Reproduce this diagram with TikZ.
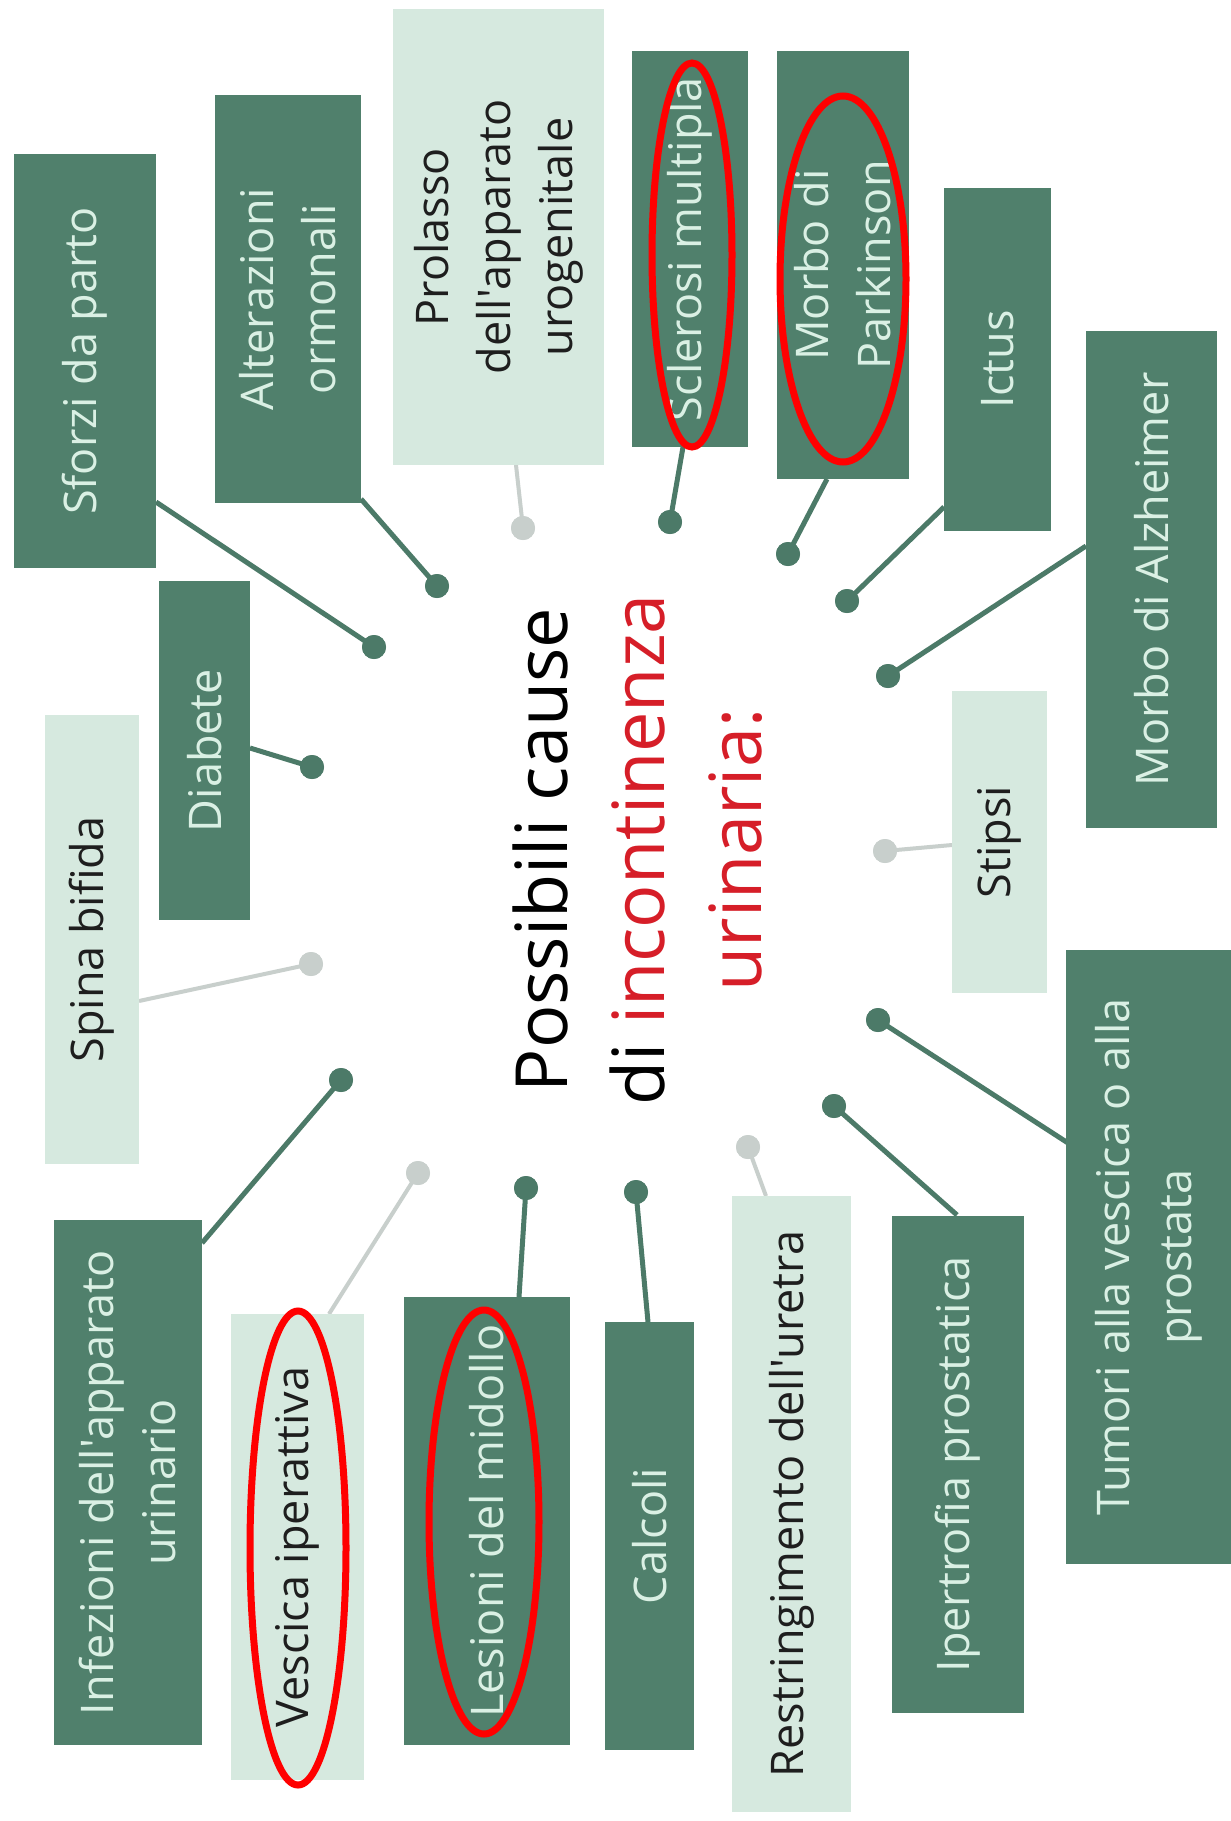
\documentclass[tikz,border=0pt]{standalone}
\usepackage{fontspec}
\setmainfont{Open Sans}[Ligatures=TeXOff]
\definecolor{dk}{RGB}{80,128,108}
\definecolor{lt}{RGB}{214,233,223}
\definecolor{dtext}{RGB}{218,240,228}
\definecolor{ltext}{RGB}{30,30,30}
\definecolor{dline}{RGB}{76,122,104}
\definecolor{lline}{RGB}{200,207,204}
\definecolor{ttlred}{RGB}{214,30,40}
\begin{document}
\begin{tikzpicture}[x=1pt,y=-1pt,
  base/.style={rectangle, inner sep=0pt, rotate=90, align=center, font=\fontsize{45}{62}\selectfont},
  dbox/.style={base, fill=dk, text=dtext},
  lbox/.style={base, fill=lt, text=ltext},
  ddot/.style={circle, fill=dline, minimum size=24pt, inner sep=0pt},
  ldot/.style={circle, fill=lline, minimum size=24pt, inner sep=0pt},
  dcon/.style={draw=dline, line width=5pt},
  lcon/.style={draw=lline, line width=4pt},
  ring/.style={draw=red, line width=7pt}]
\useasboundingbox (0,0) rectangle (1231,1821);
\fill[white] (0,0) rectangle (1231,1821);

% connector end points on the boxes
\coordinate (e1) at (156,502);
\coordinate (e2) at (361,499);
\coordinate (e3) at (516,465);
\coordinate (e4) at (683,447);
\coordinate (e5) at (827,479);
\coordinate (e6) at (944,507);
\coordinate (e7) at (1086,546);
\coordinate (e8) at (952,845);
\coordinate (e9) at (1068,1143);
\coordinate (e10) at (957,1215);
\coordinate (e11) at (766,1196);
\coordinate (e12) at (648,1322);
\coordinate (e13) at (519,1297);
\coordinate (e14) at (329,1314);
\coordinate (e15) at (202,1243);
\coordinate (e16) at (139,1001);
\coordinate (e17) at (250,748);

% dots
\foreach \i/\x/\y in {1/374/647,2/437/586,4/670/522,5/788/554,6/847/601,7/888/676,9/878/1020,10/834/1106,12/636/1192,13/526/1188,15/341/1080,17/312/767}
  {\node[ddot] (d\i) at (\x,\y) {};}
\foreach \i/\x/\y in {3/523/528,8/885/851,11/748/1147,14/418/1173,16/311/964}
  {\node[ldot] (d\i) at (\x,\y) {};}

\begin{scope}[on background layer/.style={}]
\foreach \i in {1,2,4,5,6,7,9,10,12,13,15,17}{\draw[dcon] (d\i.center) -- (e\i);}
\foreach \i in {3,8,11,14,16}{\draw[lcon] (d\i.center) -- (e\i);}
\end{scope}
\foreach \i in {1,2,4,5,6,7,9,10,12,13,15,17}{\fill[dline] (d\i) circle (12);}
\foreach \i in {3,8,11,14,16}{\fill[lline] (d\i) circle (12);}

% boxes (minimum width = vertical extent, minimum height = horizontal extent)
\node[dbox, minimum width=414pt, minimum height=142pt] (b1) at (85,361) {Sforzi da parto};
\node[dbox, minimum width=408pt, minimum height=146pt] (b2) at (288,299) {Alterazioni\\ormonali};
\node[lbox, minimum width=456pt, minimum height=211pt] (b3) at (498.5,237) {Prolasso\\dell'apparato\\urogenitale};
\node[dbox, minimum width=396pt, minimum height=116pt] (b4) at (690,249) {Sclerosi multipla};
\node[dbox, minimum width=428pt, minimum height=132pt] (b5) at (843,265) {Morbo di\\Parkinson};
\node[dbox, minimum width=343pt, minimum height=107pt] (b6) at (997.5,359.5) {Ictus};
\node[dbox, minimum width=497pt, minimum height=131pt] (b7) at (1151.5,579.5) {Morbo di Alzheimer};
\node[lbox, minimum width=302pt, minimum height=95pt] (b8) at (999.5,842) {Stipsi};
\node[dbox, minimum width=614pt, minimum height=165pt] (b9) at (1148.5,1257) {Tumori alla vescica o alla\\prostata};
\node[dbox, minimum width=497pt, minimum height=132pt] (b10) at (958,1464.5) {Ipertrofia prostatica};
\node[lbox, minimum width=616pt, minimum height=119pt] (b11) at (791.5,1504) {Restringimento dell'uretra};
\node[dbox, minimum width=428pt, minimum height=89pt] (b12) at (649.5,1536) {Calcoli};
\node[dbox, minimum width=448pt, minimum height=166pt] (b13) at (487,1521) {Lesioni del midollo};
\node[lbox, minimum width=466pt, minimum height=133pt] (b14) at (297.5,1547) {Vescica iperattiva};
\node[dbox, minimum width=525pt, minimum height=148pt] (b15) at (128,1482.5) {Infezioni dell'apparato\\urinario};
\node[lbox, minimum width=449pt, minimum height=94pt] (b16) at (92,939.5) {Spina bifida};
\node[dbox, minimum width=339pt, minimum height=91pt] (b17) at (204.5,750.5) {Diabete};

% title
\node[rotate=90, align=center, inner sep=0pt, font=\fontsize{72}{97}\selectfont] (title) at (638,850)
  {Possibili cause\\di \textcolor{ttlred}{incontinenza}\\\textcolor{ttlred}{urinaria:}};

% red rings
\draw[ring] (692,255) ellipse [x radius=40, y radius=192];
\draw[ring] (843,279) ellipse [x radius=63, y radius=183];
\draw[ring] (298,1548) ellipse [x radius=48, y radius=237];
\draw[ring] (484,1522) ellipse [x radius=55, y radius=212];
\end{tikzpicture}
\end{document}
